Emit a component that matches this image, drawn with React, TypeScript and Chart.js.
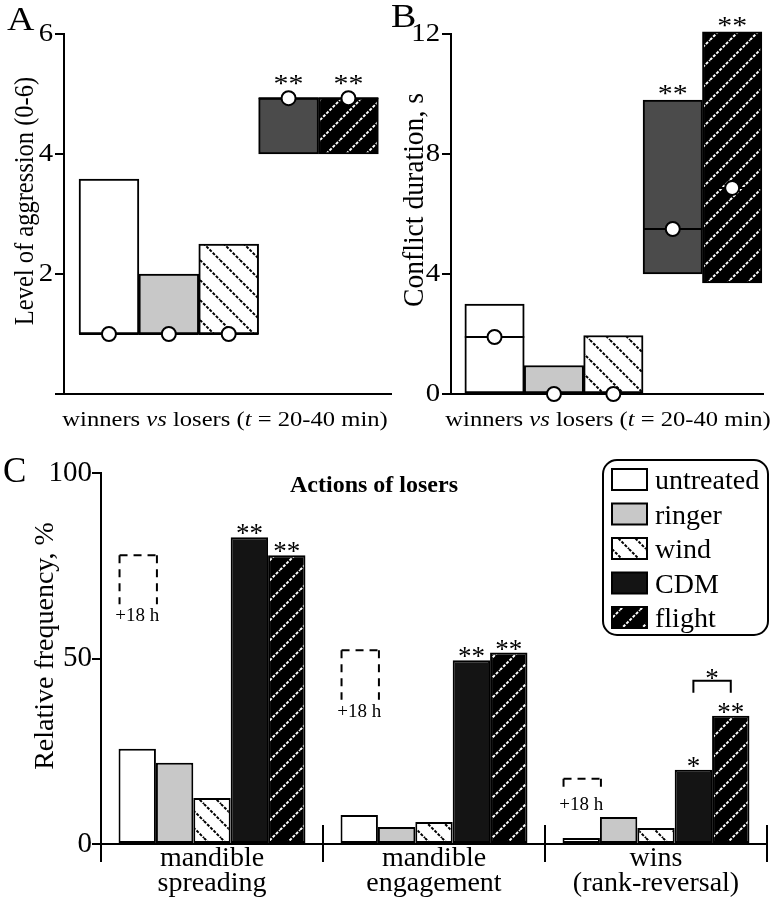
import React, { useEffect, useRef } from 'react';
import { Chart, registerables } from 'chart.js';

Chart.register(...registerables);

const SERIF = '"Liberation Serif", "Times New Roman", serif';
Chart.defaults.font.family = SERIF;
Chart.defaults.color = '#000';

// ---------------- data ----------------
const treatments = ['untreated', 'ringer', 'wind', 'CDM', 'flight'];
const treatmentIndex = [0, 1, 2, 3, 4];

// Panel A: level of aggression (range low-high, median)
const aggressionLow = [1.0, 1.0, 1.0, 4.0, 4.0];
const aggressionHigh = [3.58, 2.0, 2.5, 4.93, 4.93];
const aggressionMedian = [1.0, 1.0, 1.0, 4.93, 4.93];
const aggressionStars = ['', '', '', '**', '**'];
const aggressionTicks = [0, 2, 4, 6];

// Panel B: conflict duration, s
const durationLow = [0, 0, 0, 4.0, 3.7];
const durationHigh = [3.0, 0.95, 1.95, 9.8, 12.07];
const durationMedian = [1.9, 0, 0, 5.5, 6.87];
const durationStars = ['', '', '', '**', '**'];
const durationTicks = [0, 4, 8, 12];

// Panel C: actions of losers, relative frequency %
const actionLabels = [['mandible', 'spreading'], ['mandible', 'engagement'], ['wins', '(rank-reversal)']];
const untreatedPct = [25.7, 7.8, 1.6];
const ringerPct = [21.9, 4.6, 7.3];
const windPct = [12.4, 5.9, 4.3];
const cdmPct = [82.7, 49.5, 20.0];
const flightPct = [77.8, 51.6, 34.6];
const cdmStars = ['**', '**', '*'];
const flightStars = ['**', '**', '**'];
const after18hTop = [77.8, 52.2, 17.6];
const after18hBottom = [64.6, 38.9, 13.8];
const after18hLabel = '+18 h';
const bracketValue = 44;
const bracketGroup = 2;
const bracketStar = '*';
const frequencyTicks = [0, 50, 100];

// ---------------- helpers ----------------
function hatch(bg: string, fg: string, size: number, forward: boolean, lw: number, dash: number[]) {
  const c = document.createElement('canvas');
  c.width = size;
  c.height = size;
  const g = c.getContext('2d')!;
  g.fillStyle = bg;
  g.fillRect(0, 0, size, size);
  g.strokeStyle = fg;
  g.lineWidth = lw;
  g.setLineDash(dash);
  for (const o of [-size, 0, size]) {
    g.beginPath();
    if (forward) {
      g.moveTo(o, size);
      g.lineTo(o + size, 0);
    } else {
      g.moveTo(o, 0);
      g.lineTo(o + size, size);
    }
    g.stroke();
  }
  return g.createPattern(c, 'repeat')!;
}

// horizontal text with optional horizontal stretch
function hText(ctx: CanvasRenderingContext2D, text: string, x: number, y: number, font: string, align: CanvasTextAlign, stretch: number, baseline: CanvasTextBaseline = 'alphabetic') {
  ctx.save();
  ctx.translate(x, y);
  ctx.scale(stretch, 1);
  ctx.font = font;
  ctx.textAlign = align;
  ctx.textBaseline = baseline;
  ctx.fillText(text, 0, 0);
  ctx.restore();
}

function drawRich(ctx: CanvasRenderingContext2D, parts: [string, boolean][], cx: number, y: number, size: number, stretch: number) {
  const fonts = parts.map(([, it]) => `${it ? 'italic ' : ''}${size}px ${SERIF}`);
  const widths = parts.map(([t], i) => {
    ctx.font = fonts[i];
    return ctx.measureText(t).width;
  });
  const total = widths.reduce((a, b) => a + b, 0);
  ctx.save();
  ctx.translate(cx, y);
  ctx.scale(stretch, 1);
  let x = -total / 2;
  ctx.textAlign = 'left';
  ctx.textBaseline = 'alphabetic';
  parts.forEach(([t], i) => {
    ctx.font = fonts[i];
    ctx.fillText(t, x, 0);
    x += widths[i];
  });
  ctx.restore();
}

function rotatedText(ctx: CanvasRenderingContext2D, text: string, x: number, y: number, font: string, along: number) {
  ctx.save();
  ctx.translate(x, y);
  ctx.rotate(-Math.PI / 2);
  ctx.scale(along, 1);
  ctx.font = font;
  ctx.textAlign = 'center';
  ctx.textBaseline = 'alphabetic';
  ctx.fillText(text, 0, 0);
  ctx.restore();
}

const xTitleParts: [string, boolean][] = [
  ['winners ', false],
  ['vs', true],
  [' losers (', false],
  ['t', true],
  [' = 20-40 min)', false],
];

const STRETCH = 1.15;

interface RangeSpec {
  low: number[];
  high: number[];
  median: number[];
  stars: string[];
  ticks: number[];
  xMin: number;
  xMax: number;
  yAxisWidth: number;
  padRight: number;
  canvasH: number;
  bottom: number;
  top: number;
  hideZero: boolean;
  letter: string;
  letterX: number;
  letterY: number;
  yTitle: string;
  yTitleX: number;
  yTitleY: number;
  yTitleSize: number;
  yTitleAlong: number;
  xTitleX: number;
  xTitleY: number;
}

function rangeConfig(s: RangeSpec): any {
  const fills = [
    '#ffffff',
    '#c8c8c8',
    hatch('#ffffff', '#000000', 20, false, 2, [3, 1.5]),
    '#4b4b4b',
    hatch('#000000', '#ffffff', 20, true, 2, [3, 1.5]),
  ];
  const plugin = {
    id: 'rangeDecor',
    afterDatasetDraw(chart: any, args: any) {
      if (args.meta.type !== 'bar') return;
      const ctx = chart.ctx;
      const ys = chart.scales.y;
      ctx.save();
      ctx.strokeStyle = '#000';
      ctx.lineWidth = 2;
      args.meta.data.forEach((el: any, i: number) => {
        const py = ys.getPixelForValue(s.median[i]);
        ctx.beginPath();
        ctx.moveTo(el.x - el.width / 2, py);
        ctx.lineTo(el.x + el.width / 2, py);
        ctx.stroke();
      });
      ctx.restore();
    },
    afterDraw(chart: any) {
      const ctx = chart.ctx;
      const ys = chart.scales.y;
      const meta = chart.getDatasetMeta(1);
      ctx.save();
      ctx.fillStyle = '#000';
      // tick labels from the y scale
      ys.ticks.forEach((t: any) => {
        if (s.hideZero && t.value === 0) return;
        hText(ctx, String(t.value), ys.right - 11, ys.getPixelForValue(t.value), `25px ${SERIF}`, 'right', STRETCH, 'middle');
      });
      // stars
      meta.data.forEach((el: any, i: number) => {
        if (!s.stars[i]) return;
        const top = Math.min(el.y, el.base, ys.getPixelForValue(s.median[i]) - 8);
        hText(ctx, s.stars[i], el.x, top + 2, `26px ${SERIF}`, 'center', STRETCH);
      });
      hText(ctx, s.letter, s.letterX, s.letterY, `33px ${SERIF}`, 'left', STRETCH);
      rotatedText(ctx, s.yTitle, s.yTitleX, s.yTitleY, `${s.yTitleSize}px ${SERIF}`, s.yTitleAlong);
      drawRich(ctx, xTitleParts, s.xTitleX, s.xTitleY, 21.4, STRETCH);
      ctx.restore();
    },
  };
  return {
    type: 'bar',
    data: {
      datasets: [
        {
          type: 'scatter',
          label: 'median',
          data: treatmentIndex.map((x, i) => ({ x, y: s.median[i] })),
          pointRadius: 7,
          pointBackgroundColor: '#ffffff',
          pointBorderColor: '#000000',
          pointBorderWidth: 2,
          order: 1,
          clip: false,
        },
        {
          type: 'bar',
          label: 'range',
          data: treatmentIndex.map((x, i) => ({ x, y: [s.low[i], s.high[i]] })),
          backgroundColor: fills,
          borderColor: '#000000',
          borderWidth: 2,
          borderSkipped: false,
          barPercentage: 1,
          categoryPercentage: 1,
          order: 2,
          clip: false,
        },
      ],
    },
    options: {
      responsive: false,
      animation: false,
      events: [],
      layout: { padding: { top: s.top, right: s.padRight, bottom: 0, left: 0 } },
      plugins: { legend: { display: false }, tooltip: { enabled: false } },
      scales: {
        x: {
          type: 'linear',
          offset: false,
          min: s.xMin,
          max: s.xMax,
          ticks: { display: false, stepSize: 1, includeBounds: false },
          grid: { display: false, drawTicks: false },
          border: { display: true, color: '#000', width: 2 },
          afterFit: (sc: any) => {
            sc.height = s.canvasH - s.bottom;
          },
        },
        y: {
          min: s.ticks[0],
          max: s.ticks[s.ticks.length - 1],
          afterBuildTicks: (sc: any) => {
            sc.ticks = s.ticks.map((v) => ({ value: v }));
          },
          ticks: { display: false },
          grid: { drawOnChartArea: false, color: '#000', lineWidth: 2, tickLength: 9 },
          border: { color: '#000', width: 2 },
          afterFit: (sc: any) => {
            sc.width = s.yAxisWidth;
          },
        },
      },
    },
    plugins: [plugin],
  };
}

function configA() {
  return rangeConfig({
    low: aggressionLow,
    high: aggressionHigh,
    median: aggressionMedian,
    stars: aggressionStars,
    ticks: aggressionTicks,
    xMin: -0.751,
    xMax: 4.711,
    yAxisWidth: 64,
    padRight: 5,
    canvasH: 440,
    bottom: 394,
    top: 34,
    hideZero: true,
    letter: 'A',
    letterX: 7,
    letterY: 30,
    yTitle: 'Level of aggression (0-6)',
    yTitleX: 33,
    yTitleY: 201,
    yTitleSize: 28,
    yTitleAlong: 0.875,
    xTitleX: 225,
    xTitleY: 426,
  });
}

function configB() {
  return rangeConfig({
    low: durationLow,
    high: durationHigh,
    median: durationMedian,
    stars: durationStars,
    ticks: durationTicks,
    xMin: -0.733,
    xMax: 4.519,
    yAxisWidth: 61,
    padRight: 2,
    canvasH: 440,
    bottom: 394,
    top: 34,
    hideZero: false,
    letter: 'B',
    letterX: 1,
    letterY: 27,
    yTitle: 'Conflict duration, s',
    yTitleX: 33,
    yTitleY: 200,
    yTitleSize: 30,
    yTitleAlong: 0.92,
    xTitleX: 218,
    xTitleY: 426,
  });
}

function configC(): any {
  const fills = [
    '#ffffff',
    '#c8c8c8',
    hatch('#ffffff', '#000000', 17, false, 2, [3, 1.5]),
    '#141414',
    hatch('#000000', '#ffffff', 20, true, 2, [3, 1.5]),
  ];
  const series = [untreatedPct, ringerPct, windPct, cdmPct, flightPct];
  const plugin = {
    id: 'actionsDecor',
    afterDraw(chart: any) {
      const ctx = chart.ctx;
      const xs = chart.scales.x;
      const ys = chart.scales.y;
      const area = chart.chartArea;
      ctx.save();
      ctx.strokeStyle = '#000';
      ctx.fillStyle = '#000';
      ctx.lineWidth = 2;
      // y tick labels from the scale
      ys.ticks.forEach((t: any) => {
        hText(ctx, String(t.value), ys.right - 9, ys.getPixelForValue(t.value), `29px ${SERIF}`, 'right', 1, 'middle');
      });
      // group separators
      for (let k = 0; k <= actionLabels.length; k++) {
        const px = Math.round(xs.getPixelForValue(k - 0.5));
        ctx.beginPath();
        ctx.moveTo(px, area.bottom - 19);
        ctx.lineTo(px, area.bottom + 18);
        ctx.stroke();
      }
      // dashed "+18 h" boxes over untreated bars
      const um = chart.getDatasetMeta(0);
      um.data.forEach((el: any, i: number) => {
        const l = el.x - el.width / 2 + 1;
        const r = el.x + el.width / 2 + 1;
        const t = ys.getPixelForValue(after18hTop[i]);
        const b = ys.getPixelForValue(after18hBottom[i]);
        ctx.setLineDash([8, 6]);
        const seg = (x1: number, y1: number, x2: number, y2: number) => {
          ctx.beginPath();
          ctx.moveTo(x1, y1);
          ctx.lineTo(x2, y2);
          ctx.stroke();
        };
        seg(l, t, l, b);
        seg(l, t, r, t);
        seg(r, t, r, b);
        ctx.setLineDash([]);
        ctx.font = `19px ${SERIF}`;
        ctx.textAlign = 'center';
        ctx.textBaseline = 'alphabetic';
        ctx.fillText(after18hLabel, el.x, b + 17);
      });
      // significance stars
      ctx.font = `27px ${SERIF}`;
      ctx.textAlign = 'center';
      const starSets: [number, string[]][] = [
        [3, cdmStars],
        [4, flightStars],
      ];
      starSets.forEach(([di, stars]) => {
        chart.getDatasetMeta(di).data.forEach((el: any, i: number) => {
          if (stars[i]) ctx.fillText(stars[i], el.x, el.y + 5);
        });
      });
      // bracket CDM vs flight
      const e1 = chart.getDatasetMeta(3).data[bracketGroup];
      const e2 = chart.getDatasetMeta(4).data[bracketGroup];
      const by = ys.getPixelForValue(bracketValue);
      ctx.beginPath();
      ctx.moveTo(e1.x, by + 12);
      ctx.lineTo(e1.x, by);
      ctx.lineTo(e2.x, by);
      ctx.lineTo(e2.x, by + 12);
      ctx.stroke();
      ctx.fillText(bracketStar, (e1.x + e2.x) / 2, by + 6);
      // legend
      const lx = 603, ly = 30, lw = 165, lh = 175, rr = 14;
      ctx.beginPath();
      ctx.moveTo(lx + rr, ly);
      ctx.arcTo(lx + lw, ly, lx + lw, ly + lh, rr);
      ctx.arcTo(lx + lw, ly + lh, lx, ly + lh, rr);
      ctx.arcTo(lx, ly + lh, lx, ly, rr);
      ctx.arcTo(lx, ly, lx + lw, ly, rr);
      ctx.closePath();
      ctx.stroke();
      chart.data.datasets.forEach((ds: any, i: number) => {
        const sy = ly + 9 + i * 34.5;
        ctx.fillStyle = ds.backgroundColor;
        ctx.fillRect(lx + 9, sy, 35, 21);
        ctx.strokeRect(lx + 9, sy, 35, 21);
        ctx.fillStyle = '#000';
        ctx.font = `28px ${SERIF}`;
        ctx.textAlign = 'left';
        ctx.fillText(ds.label, lx + 52, sy + 20);
      });
      // title, letter, y title
      ctx.font = `bold 24px ${SERIF}`;
      ctx.textAlign = 'center';
      ctx.fillText('Actions of losers', 374, 62);
      ctx.font = `35px ${SERIF}`;
      ctx.textAlign = 'left';
      ctx.fillText('C', 3, 52);
      rotatedText(ctx, 'Relative frequency, %', 53, 216, `28px ${SERIF}`, 1);
      ctx.restore();
    },
  };
  return {
    type: 'bar',
    data: {
      labels: actionLabels,
      datasets: treatments.map((t, k) => ({
        label: t,
        data: series[k],
        backgroundColor: fills[k],
        borderColor: '#000000',
        borderWidth: 2,
        borderSkipped: false,
        categoryPercentage: 0.842,
        barPercentage: 1,
      })),
    },
    options: {
      responsive: false,
      animation: false,
      events: [],
      layout: { padding: { top: 43, right: 5, bottom: 0, left: 0 } },
      plugins: { legend: { display: false }, tooltip: { enabled: false } },
      scales: {
        x: {
          type: 'category',
          offset: true,
          grid: { display: false, drawTicks: false, tickLength: 0 },
          border: { display: true, color: '#000', width: 2 },
          ticks: { font: { size: 28, lineHeight: 0.9 }, color: '#000', padding: 2, maxRotation: 0, autoSkip: false },
          afterFit: (sc: any) => {
            sc.height = 56;
          },
        },
        y: {
          min: 0,
          max: 100,
          afterBuildTicks: (sc: any) => {
            sc.ticks = frequencyTicks.map((v) => ({ value: v }));
          },
          ticks: { display: false },
          grid: { drawOnChartArea: false, color: '#000', lineWidth: 2, tickLength: 9 },
          border: { color: '#000', width: 2 },
          afterFit: (sc: any) => {
            sc.width = 101;
          },
        },
      },
    },
    plugins: [plugin],
  };
}

function ChartBox({ left, top, width, height, make }: { left: number; top: number; width: number; height: number; make: () => any }) {
  const ref = useRef<HTMLCanvasElement>(null);
  useEffect(() => {
    const chart = new Chart(ref.current!, make());
    return () => chart.destroy();
  }, []);
  return (
    <div style={{ position: 'absolute', left, top, width, height }}>
      <canvas ref={ref} width={width} height={height} style={{ width, height, display: 'block' }} />
    </div>
  );
}

export default function App() {
  return (
    <div style={{ position: 'absolute', left: 0, top: 0, width: 772, height: 900, background: '#fff', overflow: 'hidden' }}>
      <ChartBox left={0} top={0} width={400} height={440} make={configA} />
      <ChartBox left={390} top={0} width={382} height={440} make={configB} />
      <ChartBox left={0} top={430} width={772} height={470} make={configC} />
    </div>
  );
}
